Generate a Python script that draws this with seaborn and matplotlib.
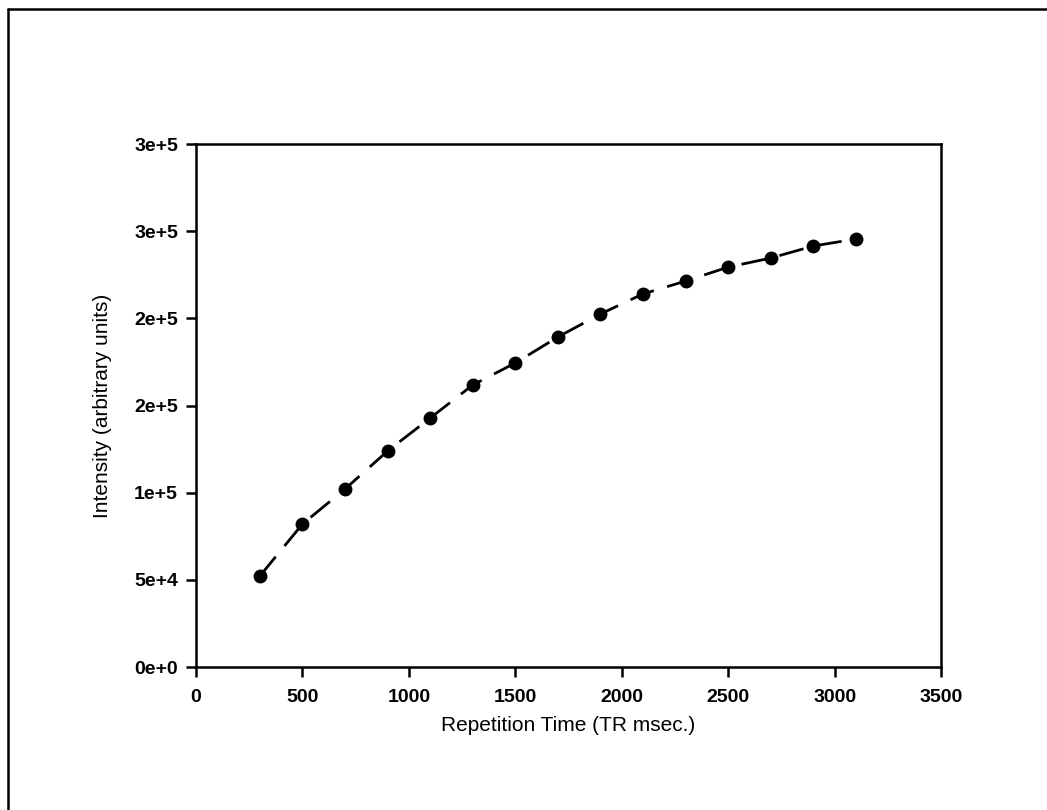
import numpy as np
import pandas as pd
import matplotlib
matplotlib.use("Agg")
import matplotlib.pyplot as plt
from matplotlib.lines import Line2D
import seaborn as sns

# data
tr_msec = [300, 500, 700, 900, 1100, 1300, 1500, 1700, 1900, 2100, 2300, 2500, 2700, 2900, 3100]
intensity = [52200, 82000, 102100, 123900, 142800, 161800, 174400, 189300,
             202500, 214000, 221400, 229400, 234600, 241500, 245500]

x_ticks = [0, 500, 1000, 1500, 2000, 2500, 3000, 3500]
y_ticks = [0, 50000, 100000, 150000, 200000, 250000, 300000]
y_tick_labels = ["0e+0", "5e+4", "1e+5", "2e+5", "2e+5", "3e+5", "3e+5"]

df = pd.DataFrame({"tr": tr_msec, "intensity": intensity})

sns.set_style("white")
plt.rcParams["font.family"] = ["Liberation Sans", "DejaVu Sans"]
plt.rcParams["text.color"] = "black"
plt.rcParams["axes.labelcolor"] = "black"
plt.rcParams["xtick.color"] = "black"
plt.rcParams["ytick.color"] = "black"

fig = plt.figure(figsize=(10.47, 8.10), dpi=100)
ax = fig.add_axes([0.1872, 0.1765, 0.7116, 0.6457])

# dashed connecting line, then the filled markers on top
sns.lineplot(data=df, x="tr", y="intensity", ax=ax, color="black",
             linewidth=2.0, dashes=False)
ax.lines[0].set_dashes([9, 5])
sns.scatterplot(data=df, x="tr", y="intensity", ax=ax, color="black",
                s=100, edgecolor="black", linewidth=0, zorder=3)

ax.set_xlim(0, 3500)
ax.set_ylim(0, 300000)
ax.set_xticks(x_ticks)
ax.set_xticklabels([str(t) for t in x_ticks])
ax.set_yticks(y_ticks)
ax.set_yticklabels(y_tick_labels)

for side in ["left", "right", "top", "bottom"]:
    ax.spines[side].set_visible(True)
    ax.spines[side].set_color("black")
    ax.spines[side].set_linewidth(1.8)

ax.tick_params(axis="both", direction="out", length=7, width=1.8,
               labelsize=14, pad=6, bottom=True, left=True)
ax.tick_params(axis="x", pad=9)
for lab in ax.get_xticklabels() + ax.get_yticklabels():
    lab.set_fontweight("bold")

ax.set_xlabel("Repetition Time (TR msec.)", fontsize=15, labelpad=7)
ax.set_ylabel("Intensity (arbitrary units)", fontsize=15, labelpad=16)

# outer frame left and top edge, as in the scanned figure
fig.add_artist(Line2D([0.0076, 0.0076], [0.0, 0.989], transform=fig.transFigure,
                      color="black", linewidth=1.8))
fig.add_artist(Line2D([0.0076, 1.0], [0.989, 0.989], transform=fig.transFigure,
                      color="black", linewidth=1.8))

fig.savefig("out.png", dpi=100)
